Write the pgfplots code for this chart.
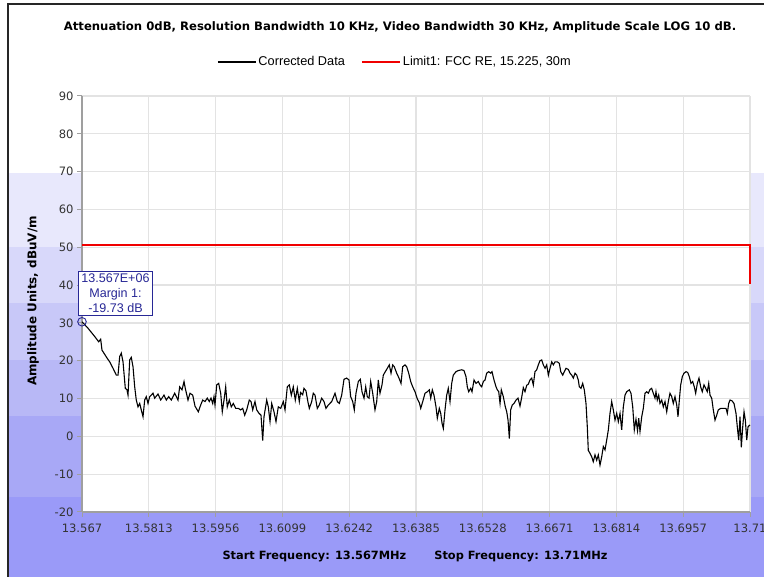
\documentclass[border=0pt]{standalone}
\usepackage{fontspec}
\setmainfont{DejaVu Sans}
\newfontfamily\arialfont{Liberation Sans}
\usepackage{pgfplots}
\usepackage{pgfplotstable}
\pgfplotsset{compat=1.18}
\definecolor{bandA}{RGB}{232,232,252}
\definecolor{bandB}{RGB}{216,216,250}
\definecolor{bandC}{RGB}{200,200,248}
\definecolor{bandD}{RGB}{184,184,246}
\definecolor{bandE}{RGB}{168,168,246}
\definecolor{bandF}{RGB}{154,154,248}
\definecolor{markBlue}{RGB}{40,40,150}
\definecolor{limitRed}{RGB}{240,0,0}

% corrected data, frequency in MHz, level in dBuV/m
\pgfplotstableread{
f dB
13.56700 30.3
13.56828 28.6
13.56972 26.4
13.57057 25.0
13.57100 25.7
13.57128 22.8
13.57242 20.6
13.57293 19.7
13.57364 18.0
13.57434 16.2
13.57471 16.2
13.57507 21.1
13.57541 22.0
13.57578 19.7
13.57627 12.7
13.57663 12.3
13.57685 10.9
13.57721 20.2
13.57755 20.9
13.57792 18.4
13.57828 13.1
13.57862 9.6
13.57899 7.8
13.57935 8.7
13.57969 7.0
13.58006 5.2
13.58042 9.6
13.58076 10.5
13.58113 8.7
13.58149 10.5
13.58220 11.4
13.58256 10.1
13.58327 11.2
13.58385 9.6
13.58455 10.9
13.58505 9.6
13.58556 10.5
13.58612 9.6
13.58684 11.4
13.58755 9.6
13.58791 13.1
13.58841 12.3
13.58884 14.5
13.58911 12.7
13.58969 9.6
13.59012 11.4
13.59070 10.9
13.59119 8.0
13.59190 6.5
13.59241 8.3
13.59284 9.6
13.59333 9.2
13.59382 10.1
13.59425 9.2
13.59462 10.1
13.59498 8.7
13.59526 10.5
13.59547 8.3
13.59584 13.6
13.59626 14.0
13.59669 11.4
13.59703 6.5
13.59740 9.6
13.59776 13.1
13.59810 7.8
13.59853 9.6
13.59896 7.8
13.59939 8.7
13.59990 7.4
13.60046 7.4
13.60097 7.0
13.60140 7.4
13.60183 5.6
13.60226 7.0
13.60281 9.6
13.60318 9.2
13.60354 7.0
13.60403 9.2
13.60440 7.0
13.60489 6.1
13.60532 5.6
13.60568 -1.1
13.60596 5.2
13.60654 9.6
13.60688 7.8
13.60725 3.9
13.60761 8.7
13.60810 6.5
13.60853 3.9
13.60902 7.8
13.60954 7.4
13.61009 9.2
13.61046 7.0
13.61095 13.1
13.61138 13.6
13.61181 10.9
13.61223 13.1
13.61266 9.6
13.61309 12.7
13.61352 9.2
13.61378 11.6
13.61424 11.0
13.61452 12.7
13.61495 12.0
13.61538 9.0
13.61566 7.4
13.61617 9.2
13.61651 11.4
13.61688 10.9
13.61737 7.4
13.61780 8.3
13.61831 10.1
13.61880 9.2
13.61923 7.4
13.61973 8.3
13.62045 9.2
13.62116 11.4
13.62165 9.2
13.62208 8.7
13.62259 10.9
13.62309 15.1
13.62366 15.4
13.62416 14.9
13.62452 10.5
13.62495 9.2
13.62529 7.0
13.62565 11.4
13.62615 14.5
13.62658 15.1
13.62694 11.8
13.62737 10.1
13.62773 13.1
13.62807 10.5
13.62844 10.1
13.62880 14.5
13.62923 11.4
13.62972 7.0
13.63009 9.2
13.63043 14.9
13.63079 11.4
13.63122 13.6
13.63150 16.2
13.63193 17.1
13.63236 18.0
13.63278 18.9
13.63315 16.7
13.63351 18.9
13.63385 18.4
13.63437 16.7
13.63486 15.4
13.63529 14.0
13.63565 18.4
13.63614 18.9
13.63651 18.4
13.63694 16.7
13.63736 14.5
13.63779 13.1
13.63829 11.8
13.63878 9.9
13.63921 8.9
13.63951 7.4
13.63994 9.2
13.64043 11.4
13.64092 11.8
13.64135 12.3
13.64165 10.1
13.64199 12.3
13.64235 10.9
13.64278 7.8
13.64306 4.8
13.64349 7.4
13.64379 6.1
13.64407 3.5
13.64435 2.1
13.64471 7.0
13.64507 10.9
13.64541 12.7
13.64578 9.2
13.64614 14.0
13.64648 16.2
13.64706 17.1
13.64755 17.4
13.64828 17.6
13.64877 17.4
13.64920 15.8
13.64948 13.1
13.64978 11.8
13.65021 12.7
13.65049 11.8
13.65092 14.9
13.65134 14.0
13.65184 14.5
13.65220 13.6
13.65256 13.1
13.65291 14.5
13.65327 14.9
13.65363 16.7
13.65406 17.1
13.65449 16.7
13.65477 17.1
13.65520 14.9
13.65563 13.1
13.65591 12.3
13.65621 11.8
13.65649 8.7
13.65676 12.3
13.65719 10.5
13.65762 7.8
13.65792 6.5
13.65820 4.3
13.65848 -0.6
13.65877 7.0
13.65911 8.3
13.65948 8.7
13.65991 9.6
13.66033 10.1
13.66076 8.0
13.66108 10.0
13.66147 12.9
13.66183 11.8
13.66220 13.5
13.66254 13.8
13.66290 14.9
13.66327 15.4
13.66361 13.6
13.66397 17.1
13.66434 17.6
13.66468 18.9
13.66504 20.0
13.66541 20.2
13.66575 18.9
13.66612 18.0
13.66648 18.9
13.66683 16.2
13.66719 18.0
13.66755 19.7
13.66790 18.9
13.66826 19.7
13.66875 19.7
13.66918 19.3
13.66948 17.1
13.66991 16.2
13.67025 17.1
13.67061 18.0
13.67111 17.7
13.67147 16.7
13.67183 16.2
13.67218 15.4
13.67254 16.7
13.67290 16.2
13.67324 14.9
13.67346 13.1
13.67382 12.7
13.67418 14.0
13.67453 12.3
13.67489 8.7
13.67517 2.5
13.67538 -3.7
13.67575 -4.5
13.67611 -5.4
13.67645 -6.7
13.67682 -4.9
13.67718 -6.3
13.67753 -4.9
13.67789 -7.6
13.67825 -5.4
13.67860 -2.7
13.67896 -3.6
13.67932 -1.0
13.67967 1.7
13.68003 6.1
13.68039 9.2
13.68074 7.0
13.68110 4.3
13.68146 6.1
13.68181 3.9
13.68217 6.1
13.68253 1.7
13.68288 7.8
13.68324 10.9
13.68361 11.8
13.68416 12.3
13.68452 11.4
13.68489 7.8
13.68523 1.7
13.68559 4.5
13.68592 1.5
13.68617 4.8
13.68645 1.3
13.68682 5.2
13.68716 7.4
13.68752 11.4
13.68788 11.8
13.68823 11.4
13.68859 12.4
13.68895 12.7
13.68930 11.4
13.68966 10.1
13.68987 11.8
13.69015 9.6
13.69045 10.9
13.69073 8.7
13.69110 9.6
13.69144 7.8
13.69180 9.2
13.69217 6.5
13.69251 9.2
13.69287 11.4
13.69324 10.5
13.69358 8.7
13.69394 10.5
13.69431 8.3
13.69459 5.2
13.69487 9.6
13.69516 13.6
13.69551 15.8
13.69587 16.7
13.69630 17.1
13.69666 16.9
13.69700 15.8
13.69737 14.0
13.69773 14.5
13.69807 13.1
13.69837 11.4
13.69872 14.0
13.69908 15.4
13.69944 13.1
13.69978 11.8
13.70015 13.6
13.70051 12.7
13.70085 11.8
13.70116 14.0
13.70144 10.9
13.70180 10.1
13.70214 7.0
13.70251 4.3
13.70287 5.6
13.70321 7.0
13.70373 7.4
13.70428 7.4
13.70486 7.4
13.70514 6.1
13.70544 8.7
13.70572 9.6
13.70615 9.4
13.70657 8.7
13.70700 6.1
13.70728 2.5
13.70758 -1.0
13.70786 5.2
13.70814 -2.9
13.70844 2.5
13.70872 6.5
13.70900 4.3
13.70930 -1.0
13.70957 2.5
13.70985 2.9
13.71000 3.0
}\corrected

\begin{document}
\begin{tikzpicture}[x=1bp,y=1bp]
\path[use as bounding box] (-82,-65) rectangle (682,512);
% stepped background
\fill[bandA] (-74,265.3) rectangle (690,339.3);
\fill[bandB] (-74,209.3) rectangle (690,265.3);
\fill[bandC] (-74,152) rectangle (690,209.3);
\fill[bandD] (-74,96) rectangle (690,152);
\fill[bandE] (-74,15.3) rectangle (690,96);
\fill[bandF] (-74,-80) rectangle (690,15.3);
\draw[black!85, line width=1.3bp] (-74,-80) -- (-74,508) -- (700,508);

\begin{axis}[
    scale only axis, width=668bp, height=416bp,
    xmin=13.567, xmax=13.71, ymin=-20, ymax=90,
    axis x line*=bottom, axis y line*=left,
    axis line style={draw=gray!75, line width=1.2bp, -},
    axis background/.style={fill=white},
    xtick={13.567,13.5813,13.5956,13.6099,13.6242,13.6385,13.6528,13.6671,13.6814,13.6957,13.71},
    xticklabels={13.567,13.5813,13.5956,13.6099,13.6242,13.6385,13.6528,13.6671,13.6814,13.6957,13.71},
    ytick={-20,-10,0,10,20,30,40,50,60,70,80,90},
    grid=major, major grid style={gray!22, line width=1.2bp},
    tick align=outside, major tick length=5bp,
    tick style={gray!75, line width=1bp},
    ticklabel style={font=\fontsize{11.6}{13}\selectfont, text=black!80},
    xticklabel style={yshift=-3bp},
    /pgf/number format/assume math mode=true,
    clip=false,
    legend style={at={(0.4686,1.0817)}, anchor=center, draw=none, fill=none,
        legend columns=2, font=\arialfont\fontsize{12.8}{14}\selectfont,
        /tikz/every even column/.append style={column sep=14bp}},
    legend image code/.code={\draw[#1] (0bp,0bp) -- (38bp,0bp);},
]
\addplot[black, line width=1.1bp] table[x=f, y=dB] {\corrected};
\addlegendentry{Corrected Data}
\addplot[limitRed, line width=2bp] coordinates {(13.567,50.6) (13.71,50.6) (13.71,40.4)};
\addlegendentry{Limit1: FCC RE, 15.225, 30m}
\addplot[markBlue, only marks, mark=o, mark size=4.3bp, line width=0.9bp, forget plot] coordinates {(13.567,30.3)};
\node[anchor=south west, xshift=-4bp, yshift=6bp, draw=markBlue, line width=0.9bp, fill=white,
      text=markBlue, align=center, inner xsep=3bp, inner ysep=2.5bp,
      font=\arialfont\fontsize{12.6}{15}\selectfont]
      at (axis cs:13.567,30.3) {13.567E+06\\Margin 1:\\-19.73 dB};
\end{axis}

\node[font=\bfseries\fontsize{11.7}{13}\selectfont] at (318,485)
  {Attenuation 0dB, Resolution Bandwidth 10 KHz, Video Bandwidth 30 KHz, Amplitude Scale LOG 10 dB.};
\node[rotate=90, font=\bfseries\fontsize{12}{13}\selectfont] at (-49,211) {Amplitude Units, dBuV/m};
\node[anchor=west, font=\bfseries\fontsize{11.4}{13}\selectfont] at (137,-45) {Start Frequency: 13.567MHz};
\node[anchor=east, font=\bfseries\fontsize{11.4}{13}\selectfont] at (529,-45) {Stop Frequency: 13.71MHz};
\end{tikzpicture}
\end{document}
